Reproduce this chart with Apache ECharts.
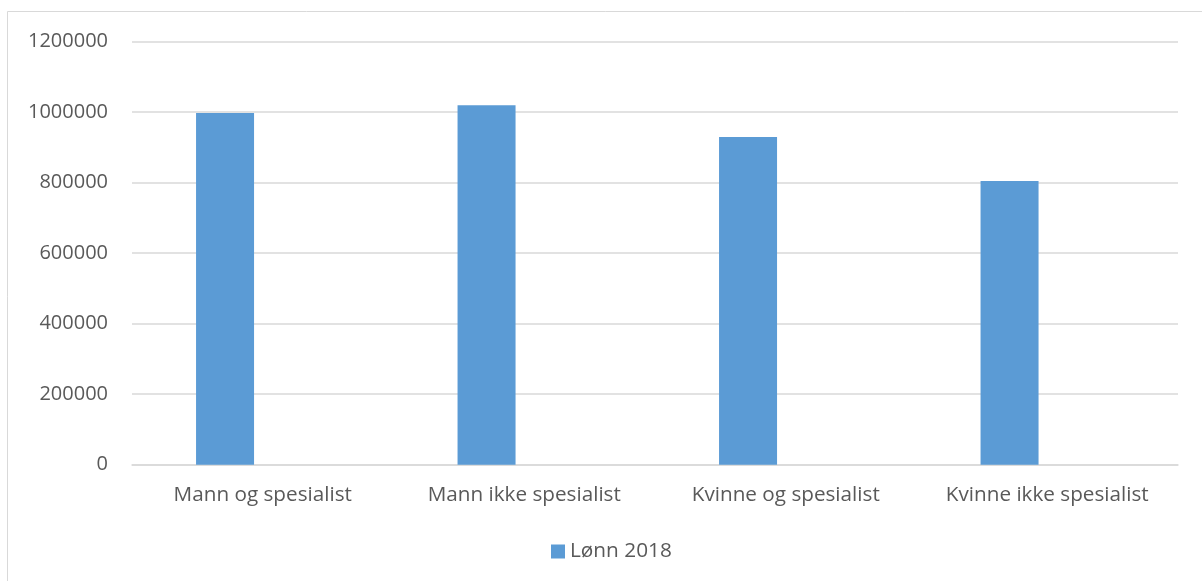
<!DOCTYPE html>
<html>
<head>
<meta charset="utf-8">
<script src="https://cdn.jsdelivr.net/npm/echarts@6/dist/echarts.min.js"></script>
<style>
html,body{margin:0;padding:0;background:#fff;}
#c{width:1202px;height:581px;}
</style>
</head>
<body>
<div id="c"></div>
<script>
const categories = ['Mann og spesialist', 'Mann ikke spesialist', 'Kvinne og spesialist', 'Kvinne ikke spesialist'];
const seriesName = 'Lønn 2018';
const values = [998000, 1020000, 930000, 805000];
const emptyValues = [null, null, null, null];
const yMin = 0, yMax = 1200000, yStep = 200000;

const chart = echarts.init(document.getElementById('c'), null, {renderer: 'canvas'});
const textColor = '#595959';
const font = 'Open Sans';
chart.setOption({
  animation: false,
  backgroundColor: '#fff',
  graphic: [{
    type: 'rect', silent: true,
    shape: {x: 7.5, y: 11.5, width: 1300, height: 700},
    style: {fill: 'none', stroke: '#d9d9d9', lineWidth: 1}
  }],
  grid: {left: 132, right: 24, top: 41.7, bottom: 116.3, containLabel: false},
  legend: {
    data: [seriesName],
    left: 546, top: 536,
    itemWidth: 14, itemHeight: 14, itemGap: 6,
    icon: 'rect',
    textStyle: {color: textColor, fontFamily: font, fontSize: 20.8}
  },
  xAxis: {
    type: 'category', data: categories,
    axisLine: {show: true, lineStyle: {color: '#d9d9d9', width: 1.5}},
    axisTick: {show: false},
    axisLabel: {color: textColor, fontFamily: font, fontSize: 20.7, margin: 20, interval: 0}
  },
  yAxis: {
    type: 'value', min: yMin, max: yMax, interval: yStep,
    axisLine: {show: false}, axisTick: {show: false},
    splitLine: {lineStyle: {color: '#d9d9d9', width: 1.5}},
    axisLabel: {color: textColor, fontFamily: font, fontSize: 20, margin: 24,
      formatter: function (v) { return String(v); }}
  },
  series: [
    {name: seriesName, type: 'bar', data: values, barWidth: 58, barGap: '30%',
     itemStyle: {color: '#5b9bd5'}},
    {name: '', type: 'bar', data: emptyValues, barWidth: 58,
     itemStyle: {color: '#ed7d31'}}
  ]
});
</script>
</body>
</html>
